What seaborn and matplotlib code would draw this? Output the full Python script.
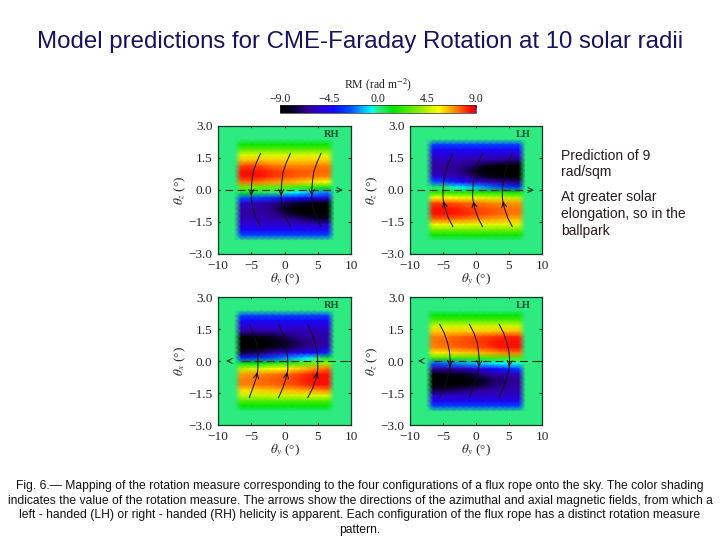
# Model predictions for CME-Faraday Rotation
# Four RM maps with flux rope field lines

import numpy as np
import pandas as pd
import seaborn as sns
import matplotlib.pyplot as plt
from matplotlib.colors import LinearSegmentedColormap

# RM VALUES INSIDE THE ROPE, ROWS TOP TO BOTTOM, COLUMNS LEFT TO RIGHT
rm_rh_top = [
    [1.5, 1.5, 1.5, 1.5, 1.5, 1.5, 1.5, 1.5, 1.5, 1.5, 1.5, 1.5, 1.5, 1.5],
    [3.2, 3.2, 3.2, 3.2, 3.2, 3.2, 3.2, 3.2, 3.2, 3.2, 3.2, 3.2, 3.2, 3.2],
    [5.0, 5.0, 5.0, 5.0, 5.0, 5.0, 5.0, 5.0, 5.0, 5.0, 5.0, 5.0, 5.0, 5.0],
    [6.4, 6.4, 6.4, 6.4, 6.3, 6.3, 6.3, 6.2, 6.2, 6.2, 6.2, 6.2, 6.2, 6.2],
    [7.8, 7.9, 7.8, 7.7, 7.5, 7.3, 7.2, 7.1, 7.1, 7.1, 7.1, 7.2, 7.2, 7.2],
    [8.4, 8.5, 8.4, 8.3, 8.2, 8.0, 7.9, 7.8, 7.7, 7.6, 7.6, 7.5, 7.5, 7.5],
    [8.4, 8.5, 8.5, 8.4, 8.2, 8.0, 7.9, 7.7, 7.6, 7.5, 7.4, 7.3, 7.2, 7.2],
    [7.4, 7.5, 7.4, 7.3, 7.1, 6.9, 6.8, 6.7, 6.5, 6.3, 6.1, 5.9, 5.7, 5.6],
    [3.4, 3.4, 3.4, 3.3, 3.2, 3.1, 3.0, 2.9, 2.7, 2.5, 2.3, 2.1, 1.9, 1.8],
    [1.0, 1.0, 0.8, 0.6, 0.4, 0.2, 0.0, -0.3, -0.6, -0.9, -1.2, -1.5, -1.8, -2.0],
    [-2.5, -2.6, -2.8, -3.0, -3.2, -3.4, -3.6, -3.8, -4.0, -4.2, -4.4, -4.6, -4.8, -5.0],
    [-5.5, -5.6, -5.8, -6.0, -6.3, -6.6, -7.0, -7.3, -7.6, -8.0, -8.2, -8.5, -8.8, -9.0],
    [-6.1, -6.2, -6.3, -6.4, -6.6, -7.0, -7.6, -8.3, -8.8, -9.0, -9.0, -9.0, -9.0, -9.0],
    [-6.1, -6.2, -6.2, -6.3, -6.4, -6.7, -7.0, -7.6, -8.2, -8.7, -9.0, -9.0, -9.0, -9.0],
    [-5.7, -5.8, -5.8, -5.9, -6.0, -6.1, -6.2, -6.4, -6.6, -6.9, -7.2, -7.5, -7.7, -7.8],
    [-5.2, -5.2, -5.2, -5.2, -5.3, -5.3, -5.3, -5.4, -5.4, -5.4, -5.5, -5.5, -5.5, -5.5],
    [-4.4, -4.4, -4.4, -4.4, -4.4, -4.4, -4.4, -4.4, -4.4, -4.4, -4.4, -4.4, -4.4, -4.4],
    [-2.8, -2.8, -2.8, -2.8, -2.8, -2.8, -2.8, -2.8, -2.8, -2.8, -2.8, -2.8, -2.8, -2.8],
]
rm_lh_top = [
    [-2.8, -2.8, -2.8, -2.8, -2.8, -2.8, -2.8, -2.8, -2.8, -2.8, -2.8, -2.8, -2.8, -2.8],
    [-4.4, -4.4, -4.4, -4.4, -4.4, -4.4, -4.4, -4.4, -4.4, -4.4, -4.4, -4.4, -4.4, -4.4],
    [-5.2, -5.2, -5.2, -5.2, -5.2, -5.2, -5.3, -5.3, -5.3, -5.3, -5.4, -5.4, -5.4, -5.4],
    [-5.8, -5.8, -5.9, -6.0, -6.0, -6.1, -6.2, -6.3, -6.4, -6.5, -6.6, -6.7, -6.9, -7.0],
    [-6.2, -6.2, -6.3, -6.4, -6.5, -6.7, -7.0, -7.5, -8.2, -8.7, -9.0, -9.0, -9.0, -9.0],
    [-6.2, -6.2, -6.3, -6.5, -6.8, -7.2, -8.0, -8.6, -9.0, -9.0, -9.0, -9.0, -9.0, -9.0],
    [-5.2, -5.3, -5.5, -5.7, -6.0, -6.3, -6.8, -7.5, -8.0, -8.5, -8.8, -9.0, -9.0, -9.0],
    [-2.5, -2.8, -3.2, -3.7, -4.2, -4.8, -5.2, -5.5, -5.8, -6.1, -6.4, -6.6, -6.8, -7.0],
    [0.3, 0.2, 0.0, -0.3, -0.6, -1.0, -1.3, -1.5, -1.9, -2.3, -2.6, -2.9, -3.2, -3.5],
    [2.0, 2.0, 2.0, 1.9, 1.9, 1.9, 1.8, 1.8, 1.8, 1.7, 1.7, 1.7, 1.6, 1.6],
    [5.6, 5.6, 5.6, 5.5, 5.4, 5.3, 5.2, 5.1, 5.0, 4.9, 4.8, 4.7, 4.6, 4.6],
    [7.9, 7.9, 7.8, 7.7, 7.6, 7.5, 7.4, 7.3, 7.2, 7.1, 7.0, 7.0, 6.9, 6.9],
    [8.4, 8.5, 8.4, 8.3, 8.2, 8.0, 7.9, 7.8, 7.7, 7.6, 7.5, 7.4, 7.3, 7.3],
    [8.4, 8.5, 8.5, 8.4, 8.3, 8.2, 8.0, 7.9, 7.8, 7.6, 7.5, 7.4, 7.3, 7.3],
    [7.5, 7.5, 7.5, 7.4, 7.3, 7.2, 7.1, 7.0, 6.9, 6.8, 6.7, 6.6, 6.5, 6.5],
    [5.3, 5.3, 5.3, 5.3, 5.2, 5.2, 5.2, 5.1, 5.1, 5.1, 5.1, 5.1, 5.1, 5.1],
    [3.4, 3.4, 3.4, 3.4, 3.4, 3.4, 3.4, 3.4, 3.4, 3.4, 3.4, 3.4, 3.4, 3.4],
    [1.6, 1.6, 1.6, 1.6, 1.6, 1.6, 1.6, 1.6, 1.6, 1.6, 1.6, 1.6, 1.6, 1.6],
]
rm_rh_bottom = [
    [-2.8, -2.8, -2.8, -2.8, -2.8, -2.8, -2.8, -2.8, -2.8, -2.8, -2.8, -2.8, -2.8, -2.8],
    [-4.4, -4.4, -4.4, -4.4, -4.4, -4.4, -4.4, -4.4, -4.4, -4.4, -4.4, -4.4, -4.4, -4.4],
    [-5.2, -5.2, -5.2, -5.2, -5.2, -5.2, -5.2, -5.2, -5.2, -5.2, -5.2, -5.2, -5.2, -5.2],
    [-6.4, -6.4, -6.3, -6.3, -6.2, -6.2, -6.1, -6.1, -6.0, -6.0, -5.9, -5.9, -5.8, -5.8],
    [-8.8, -8.8, -8.7, -8.5, -8.3, -7.9, -7.4, -7.0, -6.7, -6.5, -6.3, -6.2, -6.1, -6.0],
    [-9.0, -9.0, -9.0, -9.0, -8.8, -8.5, -8.1, -7.8, -7.4, -7.0, -6.8, -6.6, -6.4, -6.3],
    [-9.0, -9.0, -9.0, -8.9, -8.6, -8.2, -7.8, -7.5, -7.1, -6.8, -6.5, -6.2, -5.8, -5.5],
    [-7.5, -7.4, -7.2, -7.0, -6.6, -6.2, -5.8, -5.4, -5.0, -4.7, -4.4, -4.1, -3.8, -3.5],
    [-3.5, -3.4, -3.2, -3.0, -2.7, -2.4, -2.1, -1.8, -1.4, -1.0, -0.6, -0.2, 0.4, 1.0],
    [1.2, 1.3, 1.4, 1.6, 1.8, 2.0, 2.2, 2.4, 2.6, 2.9, 3.2, 3.5, 3.9, 4.2],
    [4.6, 4.7, 4.9, 5.1, 5.3, 5.5, 5.6, 5.8, 6.0, 6.3, 6.6, 6.9, 7.2, 7.5],
    [6.8, 6.9, 7.0, 7.1, 7.2, 7.3, 7.4, 7.5, 7.7, 7.9, 8.1, 8.3, 8.4, 8.5],
    [7.2, 7.2, 7.3, 7.4, 7.5, 7.6, 7.7, 7.8, 7.9, 8.1, 8.3, 8.4, 8.5, 8.5],
    [7.2, 7.2, 7.3, 7.4, 7.4, 7.5, 7.6, 7.7, 7.8, 8.0, 8.2, 8.4, 8.5, 8.5],
    [6.0, 6.0, 6.1, 6.2, 6.3, 6.4, 6.5, 6.5, 6.6, 6.7, 6.8, 6.9, 7.1, 7.2],
    [4.6, 4.6, 4.6, 4.7, 4.7, 4.8, 4.8, 4.8, 4.9, 4.9, 5.0, 5.0, 5.0, 5.0],
    [2.9, 2.9, 2.9, 2.9, 2.9, 2.9, 2.9, 2.9, 2.9, 2.9, 2.9, 2.9, 2.9, 2.9],
    [1.4, 1.4, 1.4, 1.4, 1.4, 1.4, 1.4, 1.4, 1.4, 1.4, 1.4, 1.4, 1.4, 1.4],
]
rm_lh_bottom = [
    [1.4, 1.4, 1.4, 1.4, 1.4, 1.4, 1.4, 1.4, 1.4, 1.4, 1.4, 1.4, 1.4, 1.4],
    [3.0, 3.0, 3.0, 3.0, 3.0, 3.0, 3.0, 3.0, 3.0, 3.0, 3.0, 3.0, 3.0, 3.0],
    [4.9, 4.9, 4.9, 4.9, 4.9, 4.9, 4.9, 4.9, 4.9, 4.9, 4.9, 4.9, 4.9, 4.9],
    [6.2, 6.2, 6.2, 6.2, 6.2, 6.2, 6.2, 6.3, 6.3, 6.3, 6.4, 6.4, 6.4, 6.4],
    [7.2, 7.2, 7.3, 7.4, 7.5, 7.6, 7.7, 7.8, 7.9, 8.0, 8.1, 8.2, 8.2, 8.2],
    [7.3, 7.4, 7.5, 7.6, 7.7, 7.8, 7.9, 8.0, 8.1, 8.3, 8.4, 8.5, 8.5, 8.5],
    [7.1, 7.2, 7.3, 7.4, 7.5, 7.6, 7.7, 7.8, 7.9, 8.1, 8.3, 8.4, 8.5, 8.5],
    [5.8, 5.8, 5.9, 6.0, 6.1, 6.2, 6.3, 6.4, 6.6, 6.8, 7.0, 7.2, 7.3, 7.3],
    [2.4, 2.4, 2.4, 2.4, 2.4, 2.4, 2.4, 2.4, 2.4, 2.5, 2.6, 2.7, 2.8, 2.9],
    [-2.5, -2.4, -2.2, -2.0, -1.8, -1.6, -1.4, -1.2, -1.0, -0.8, -0.7, -0.5, -0.4, -0.3],
    [-6.5, -6.4, -6.3, -6.1, -6.0, -5.7, -5.4, -5.0, -4.6, -4.2, -3.9, -3.6, -3.3, -3.0],
    [-8.8, -8.8, -8.6, -8.4, -8.3, -7.9, -7.5, -7.0, -6.6, -6.3, -6.0, -5.8, -5.6, -5.5],
    [-9.0, -9.0, -9.0, -9.0, -9.0, -8.8, -8.4, -8.0, -7.6, -7.2, -7.0, -6.8, -6.6, -6.5],
    [-9.0, -9.0, -9.0, -9.0, -9.0, -8.7, -8.3, -8.0, -7.5, -7.1, -6.8, -6.6, -6.4, -6.3],
    [-7.5, -7.5, -7.4, -7.2, -7.0, -6.9, -6.7, -6.5, -6.4, -6.3, -6.2, -6.1, -6.0, -6.0],
    [-5.5, -5.5, -5.5, -5.5, -5.5, -5.5, -5.5, -5.5, -5.5, -5.5, -5.5, -5.5, -5.5, -5.5],
    [-4.6, -4.6, -4.6, -4.6, -4.6, -4.6, -4.6, -4.6, -4.6, -4.6, -4.6, -4.6, -4.6, -4.6],
    [-2.8, -2.8, -2.8, -2.8, -2.8, -2.8, -2.8, -2.8, -2.8, -2.8, -2.8, -2.8, -2.8, -2.8],
]

# FIELD LINES, THETA Y VALUES ALONG THE SHARED THETA Z HEIGHTS
line_z = [1.72, 1.3, 0.85, 0.4, 0.0, -0.4, -0.85, -1.3, -1.72]
lines_rh_top = [
    [-3.6, -4.2, -4.7, -4.9, -5.0, -5.0, -4.8, -4.3, -3.6],
    [0.9, 0.3, -0.2, -0.4, -0.5, -0.5, -0.3, 0.2, 0.9],
    [5.5, 4.9, 4.4, 4.2, 4.1, 4.1, 4.3, 4.8, 5.5],
]
lines_lh_top = [
    [-3.5, -4.1, -4.6, -4.9, -5.0, -5.0, -4.7, -4.2, -3.5],
    [1.0, 0.4, -0.1, -0.4, -0.5, -0.5, -0.2, 0.3, 1.0],
    [5.5, 4.9, 4.4, 4.1, 4.0, 4.0, 4.3, 4.8, 5.5],
]
lines_rh_bottom = [
    [-5.3, -4.7, -4.2, -4.0, -4.0, -4.0, -4.3, -4.8, -5.3],
    [-0.9, -0.3, 0.2, 0.4, 0.5, 0.5, 0.2, -0.3, -0.9],
    [3.5, 4.1, 4.6, 4.9, 5.0, 5.0, 4.7, 4.2, 3.5],
]
lines_lh_bottom = [
    [-5.5, -4.8, -4.3, -4.0, -3.9, -4.0, -4.4, -4.9, -5.5],
    [-1.0, -0.3, 0.2, 0.4, 0.5, 0.4, 0.0, -0.5, -1.0],
    [3.5, 4.2, 4.7, 5.0, 5.1, 5.0, 4.6, 4.1, 3.5],
]

# TICK LABELS AND TEXT
y_ticks = [-10, -5, 0, 5, 10]
z_ticks = [3.0, 1.5, 0.0, -1.5, -3.0]
cbar_ticks = [-9.0, -4.5, 0.0, 4.5, 9.0]
title = 'Model predictions for CME-Faraday Rotation at 10 solar radii'
side_text = ['Prediction of 9\nrad/sqm', 'At greater solar\nelongation, so in the\nballpark']
caption = ('Fig. 6.— Mapping of the rotation measure corresponding to the four configurations of a flux rope onto the sky. The color shading\n'
           'indicates the value of the rotation measure. The arrows show the directions of the azimuthal and axial magnetic fields, from which a\n'
           'left - handed (LH) or right - handed (RH) helicity is apparent. Each configuration of the flux rope has a distinct rotation measure\n'
           'pattern.')

sns.set_theme(style='white')
plt.rcParams['font.family'] = ['Liberation Serif', 'DejaVu Serif']
plt.rcParams['mathtext.fontset'] = 'stix'

# COLOR SCALE LIKE THE IDL TABLE IN THE PICTURE
bg_color = '#2eea84'
rm_cmap = LinearSegmentedColormap.from_list('rm', [
    (0.0, '#000000'), (0.07, '#0a0030'), (0.14, '#30009a'), (0.22, '#2a00e0'),
    (0.27, '#1008ff'), (0.36, '#0050ff'), (0.42, '#00b0ff'), (0.47, '#00ffff'), (0.50, bg_color),
    (0.58, '#00e600'), (0.73, '#a0ee00'), (0.81, '#ffff00'), (0.89, '#ff9000'),
    (0.97, '#ff1000'), (1.0, '#d00030')])

panels = [
    (rm_rh_top, lines_rh_top, 'RH', [218, 126, 133, 128], r'$\theta_z$ (°)'),
    (rm_lh_top, lines_lh_top, 'LH', [410, 126, 132, 128], r'$\theta_z$ (°)'),
    (rm_rh_bottom, lines_rh_bottom, 'RH', [218, 297, 133, 128], r'$\theta_x$ (°)'),
    (rm_lh_bottom, lines_lh_bottom, 'LH', [410, 297, 132, 128], r'$\theta_z$ (°)'),
]
arrow_side = [('down', 'right'), ('up', 'right'), ('up', 'left'), ('down', 'left')]

fig = plt.figure(figsize=(7.2, 5.4), dpi=100)
cax = fig.add_axes([280 / 720, 1 - 113 / 540, 196 / 720, 8 / 540])


# GOURAUD MESH HAS ITS NODES ON THE INTEGERS, SO CELL CENTRES SIT THERE
def to_x(v):
    return np.asarray(v) + 9.5


def to_y(v):
    return 11.5 - np.asarray(v) * 4


cb = None
for i, (rm, lines, name, box, zlabel) in enumerate(panels):
    ax = fig.add_axes([box[0] / 720, 1 - (box[1] + box[3]) / 540, box[2] / 720, box[3] / 540])
    ax.set_facecolor(bg_color)
    # BACKGROUND OF ZERO RM AROUND THE ROPE
    grid = pd.DataFrame(np.pad(np.array(rm), ((3, 3), (3, 3))))
    sns.heatmap(grid, ax=ax, cmap=rm_cmap, vmin=-9, vmax=9, xticklabels=False, yticklabels=False,
                cbar=i == 0, cbar_ax=cax if i == 0 else None, shading='gouraud',
                cbar_kws={'orientation': 'horizontal', 'ticks': cbar_ticks})
    if i == 0:
        cb = ax.collections[0].colorbar
    ax.set_xlim(to_x(-10), to_x(10))
    ax.set_ylim(to_y(-3), to_y(3))
    for s in ax.spines.values():
        s.set_visible(True)
        s.set_color('#0c3a20')
        s.set_linewidth(0.9)

    ax.set_xticks(to_x(y_ticks))
    ax.set_xticklabels(['−10', '−5', '0', '5', '10'], fontsize=9.5, rotation=0, color='#222222')
    ax.set_yticks(to_y(z_ticks))
    ax.set_yticklabels(['3.0', '1.5', '0.0', '−1.5', '−3.0'], fontsize=9.5, rotation=0, color='#222222')
    ax.tick_params(axis='both', direction='in', length=2.5, width=0.7, top=True, right=True,
                   bottom=True, left=True, pad=4, color='#111111')
    ax.set_xlabel(r'$\theta_y$ (°)', fontsize=9.5, labelpad=0, color='#222222')
    ax.set_ylabel(zlabel, fontsize=9.5, labelpad=0, color='#222222')
    ax.text(to_x(7.1), to_y(2.6), name, fontsize=7.5, fontweight='bold', color='#1c5030',
            ha='center', va='center')

    # DASHED AXIS OF THE ROPE WITH ITS ARROW
    updown, side = arrow_side[i]
    if side == 'right':
        ax.plot(to_x([-9, 8]), to_y([0, 0]), color='#103020', lw=0.8, dashes=(7, 4))
        start, tip = 7.8, 9.2
    else:
        ax.plot(to_x([-6.4, 10]), to_y([0, 0]), color='#103020', lw=0.8, dashes=(7, 4))
        start, tip = -7.8, -9.2
    ax.annotate('', xy=(to_x(tip), to_y(0)), xytext=(to_x(start), to_y(0)),
                arrowprops=dict(arrowstyle='->', color='#103020', lw=0.7, mutation_scale=9))

    # FIELD LINES WITH ARROW HEADS NEAR THE MIDDLE
    for xs in lines:
        ax.plot(to_x(xs), to_y(line_z), color='#101010', lw=0.7)
        if updown == 'down':
            ax.annotate('', xy=(to_x(xs[5]), to_y(line_z[5])), xytext=(to_x(xs[4]), to_y(line_z[4])),
                        arrowprops=dict(arrowstyle='->', color='#101010', lw=0.7, mutation_scale=9))
        else:
            ax.annotate('', xy=(to_x(xs[5]), to_y(line_z[5])), xytext=(to_x(xs[6]), to_y(line_z[6])),
                        arrowprops=dict(arrowstyle='->', color='#101010', lw=0.7, mutation_scale=9))

# COLOR BAR ON TOP
cb.set_ticklabels(['−9.0', '−4.5', '0.0', '4.5', '9.0'])
cax.xaxis.set_ticks_position('top')
cax.tick_params(axis='x', direction='in', length=2, width=0.6, pad=0, labelsize=8.5, colors='#222222')
cb.outline.set_linewidth(0.5)
fig.text(378 / 720, 1 - 85 / 540, 'RM (rad m$^{-2}$)', fontsize=8.5, ha='center', va='center', color='#222222')

# SLIDE TEXT
fig.text(360 / 720, 1 - 42 / 540, title, fontsize=17.3, family='Liberation Sans', color='#14145c',
         ha='center', va='center')
fig.text(561 / 720, 1 - 164 / 540, side_text[0], fontsize=10, family='Liberation Sans', color='#2a1a1a',
         va='center', linespacing=1.27)
fig.text(561 / 720, 1 - 214 / 540, side_text[1], fontsize=10, family='Liberation Sans', color='#2a1a1a',
         va='center', linespacing=1.27)
fig.text(360 / 720, 1 - 508 / 540, caption, fontsize=8.7, family='Liberation Sans', color='#111111',
         ha='center', va='center', linespacing=1.33)

fig.savefig('out.png', dpi=100)
